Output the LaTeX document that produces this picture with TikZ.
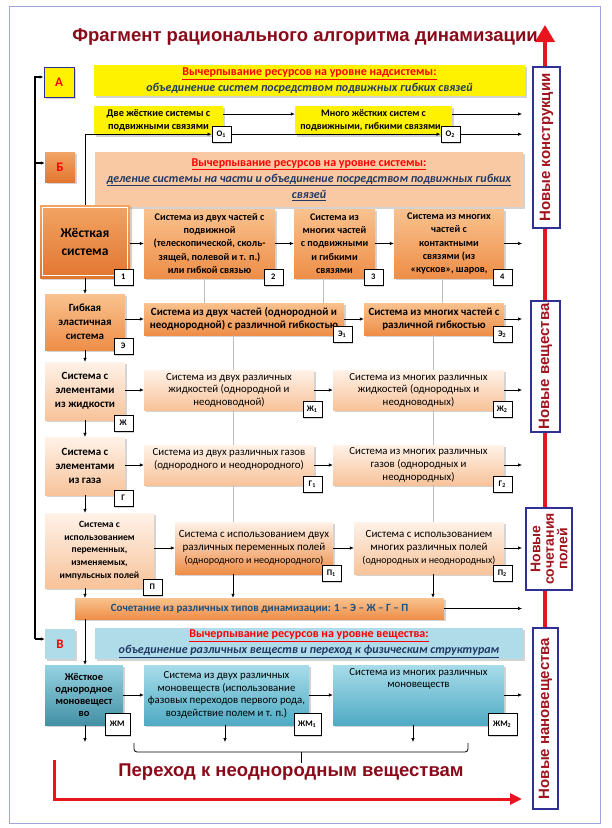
\documentclass[tikz,border=0pt]{standalone}
\usepackage{fontspec}
\setmainfont{Carlito}
\newfontfamily\arialfont{Liberation Sans}
\usepackage{tikz}
\usetikzlibrary{shadows,arrows.meta}

\definecolor{darkred}{HTML}{8B0A1A}
\definecolor{labelred}{HTML}{A0141E}
\definecolor{labelblue}{HTML}{2E3192}
\definecolor{navy}{HTML}{1F3864}
\definecolor{combotext}{HTML}{1F4E79}
\definecolor{axisred}{HTML}{E8141E}
\definecolor{framecol}{HTML}{A3A3E0}
\definecolor{guidegray}{HTML}{BDBDBD}
\definecolor{hottop}{HTML}{F2A464}
\definecolor{hotbot}{HTML}{E27630}
\definecolor{warmtop}{HTML}{F9C28E}
\definecolor{warmbot}{HTML}{EE8E48}
\definecolor{paletop}{HTML}{FFF2E8}
\definecolor{palebot}{HTML}{F7C39A}
\definecolor{peach}{HTML}{F9C9A3}
\definecolor{lightblue}{HTML}{B0DCE9}
\definecolor{tealtop}{HTML}{A8DCEA}
\definecolor{tealbot}{HTML}{4FAAC3}

\tikzstyle{shadowed} = [drop shadow={opacity=0.35, shadow xshift=1.5pt, shadow yshift=-1.5pt}]
\tikzstyle{cell} = [rectangle, align=center, inner sep=1pt, shadowed]
\tikzstyle{hot} = [cell, top color=hottop, bottom color=hotbot]
\tikzstyle{warm} = [cell, top color=warmtop, bottom color=warmbot]
\tikzstyle{pale} = [cell, top color=paletop, bottom color=palebot]
\tikzstyle{teal} = [cell, top color=tealtop, bottom color=tealbot]
\tikzstyle{tag} = [rectangle, draw, fill=white, inner sep=0pt, minimum width=19pt, minimum height=16pt, font=\bfseries\fontsize{8.5}{9}\selectfont, xshift=-2pt, yshift=1pt, shadowed]
\tikzstyle{letter} = [rectangle, minimum width=30pt, minimum height=30pt, text=red, font=\bfseries\fontsize{13}{14}\selectfont, shadowed]
\tikzstyle{banner} = [rectangle, align=center, inner sep=1pt, text=navy, font=\bfseries\fontsize{12}{16}\selectfont, shadowed]
\tikzstyle{newbox} = [rectangle, rotate=90, draw=labelblue, line width=1.2pt, fill=white, align=center, inner sep=1pt, text=labelred, font=\arialfont\bfseries\fontsize{15}{14}\selectfont]
\tikzstyle{arr} = [-{Latex[length=4pt,width=3.5pt]}, line width=0.6pt]
\tikzstyle{guide} = [guidegray, line width=0.6pt]

\begin{document}
\begin{tikzpicture}[x=1pt, y=-1pt]
\useasboundingbox (0,0) rectangle (612,828);
\draw[framecol, line width=1pt] (9,6) rectangle (600,823);

% axis of new results
\draw[axisred, line width=4pt, -{Triangle[length=17pt,width=19pt]}] (545,806) -- (545,25);
\node[newbox, minimum width=161pt, minimum height=27pt] (lbl1) at (546.5,147.5) {Новые конструкции};
\node[newbox, minimum width=131pt, minimum height=29pt] (lbl2) at (545.5,366.5) {Новые вещества};
\node[newbox, minimum width=82pt, minimum height=46pt, font=\arialfont\bfseries\fontsize{14}{13.5}\selectfont] (lbl3) at (549,549) {Новые\\сочетания\\полей};
\node[newbox, minimum width=181pt, minimum height=25pt] (lbl4) at (545.5,718.5) {Новые нановещества};

\node[text=darkred, font=\arialfont\bfseries\fontsize{18.5}{22}\selectfont] (head) at (305,37) {Фрагмент рационального алгоритма динамизации};

\coordinate (edge) at (522,0);
\coordinate (spine) at (85,0);
\coordinate (oy) at (0,114);

% level A
\node[letter, fill=yellow, draw=labelblue, line width=1pt] (lvA) at (59,82) {А};
\node[banner, fill=yellow, minimum width=431pt, minimum height=31pt] (banA) at (309.5,80.5) {\textcolor{red}{\underline{Вычерпывание ресурсов на уровне надсистемы:}}\\\textit{объединение систем посредством подвижных гибких связей}};
\node[cell, fill=yellow, minimum width=129pt, minimum height=29pt, font=\bfseries\fontsize{10.3}{13}\selectfont] (o1) at (158.5,120.5) {Две жёсткие системы с\\подвижными связями};
\node[cell, fill=yellow, minimum width=157pt, minimum height=29pt, font=\bfseries\fontsize{10}{13}\selectfont] (o2) at (373.5,120.5) {Много жёстких систем с\\подвижными, гибкими связями\hspace*{6pt}};
\node[tag] (to1) at (o1.south east) {О\textsubscript{1}};
\node[tag] (to2) at (o2.south east) {О\textsubscript{2}};

% level B
\node[letter, top color=hottop, bottom color=hotbot] (lvB) at (60,167.5) {Б};
\node[banner, fill=peach, minimum width=428pt, minimum height=55pt] (banB) at (309,179.5) {\textcolor{red}{\underline{Вычерпывание ресурсов на уровне системы:}}\\\textit{\underline{деление системы на части и объединение посредством подвижных гибких}}\\\textit{\underline{связей}}};

% row 1
\node[hot, minimum width=90pt, minimum height=73pt, font=\bfseries\fontsize{13.5}{18}\selectfont] (rigid) at (85,241.5) {Жёсткая\\система};
\draw[white, line width=0.8pt] ([shift={(3pt,3pt)}]rigid.south west) rectangle ([shift={(-3pt,-3pt)}]rigid.north east);
\node[warm, minimum width=131pt, minimum height=69pt, font=\bfseries\fontsize{10.2}{13.4}\selectfont] (s2) at (209.5,243.5) {Система из двух частей с\\подвижной\\(телескопической, сколь-\\зящей, полевой и т. п.)\\или гибкой связью};
\node[warm, minimum width=81pt, minimum height=69pt, font=\bfseries\fontsize{10.2}{13.4}\selectfont] (s3) at (334.5,243.5) {Система из\\многих частей\\с подвижными\\и гибкими\\связями};
\node[warm, minimum width=110pt, minimum height=69pt, font=\bfseries\fontsize{10.2}{13.4}\selectfont] (s4) at (449,243.5) {Система из многих\\частей с\\контактными\\связями (из\\«кусков», шаров,};
\node[tag, xshift=-5pt] (t1) at (rigid.south east) {1};
\node[tag] (t2) at (s2.south east) {2};
\node[tag] (t3) at (s3.south east) {3};
\node[tag] (t4) at (s4.south east) {4};

% row E
\node[warm, minimum width=80pt, minimum height=56pt, font=\bfseries\fontsize{11}{14}\selectfont] (flex) at (85,322) {Гибкая\\эластичная\\система};
\node[warm, minimum width=200pt, minimum height=32pt, font=\bfseries\fontsize{11}{13.5}\selectfont] (e1) at (244,319) {Система из двух частей (однородной и\\неоднородной) с различной гибкостью};
\node[warm, minimum width=140pt, minimum height=32pt, font=\bfseries\fontsize{11}{13.5}\selectfont] (e2) at (434,319) {Система из многих частей с\\различной гибкостью};
\node[tag, yshift=3pt] (te) at (flex.south east) {Э};
\node[tag] (te1) at (e1.south east) {Э\textsubscript{1}};
\node[tag] (te2) at (e2.south east) {Э\textsubscript{2}};

% row liquid
\node[pale, minimum width=80pt, minimum height=58pt, font=\bfseries\fontsize{11}{14}\selectfont] (liq) at (85,391) {Система с\\элементами\\из жидкости};
\node[pale, minimum width=170pt, minimum height=40pt, font=\fontsize{10.8}{12.5}\selectfont] (l1) at (229,390) {Система из двух различных\\жидкостей (однородной и\\неодноводной)};
\node[pale, minimum width=171pt, minimum height=40pt, font=\fontsize{10.8}{12.5}\selectfont] (l2) at (418.5,390) {Система из многих различных\\жидкостей (однородных и\\неодноводных)};
\node[tag, yshift=-4pt] (tl) at (liq.south east) {Ж};
\node[tag] (tl1) at (l1.south east) {Ж\textsubscript{1}};
\node[tag] (tl2) at (l2.south east) {Ж\textsubscript{2}};

% row gas
\node[pale, minimum width=80pt, minimum height=58pt, font=\bfseries\fontsize{11}{14}\selectfont] (gas) at (85,466) {Система с\\элементами\\из газа};
\node[pale, minimum width=170pt, minimum height=40pt, font=\fontsize{10.8}{13}\selectfont] (v1) at (229,465) {\parbox[c][34pt][t]{168pt}{\centering Система из двух различных газов\\(однородного и неоднородного)}};
\node[pale, minimum width=171pt, minimum height=40pt, font=\fontsize{10.8}{12.8}\selectfont] (v2) at (418.5,465) {Система из многих различных\\газов (однородных и\\неоднородных)};
\node[tag, yshift=-4pt] (tg) at (gas.south east) {Г};
\node[tag] (tg1) at (v1.south east) {Г\textsubscript{1}};
\node[tag] (tg2) at (v2.south east) {Г\textsubscript{2}};

% row fields
\node[pale, minimum width=109pt, minimum height=75pt, font=\bfseries\fontsize{9.6}{12.7}\selectfont] (fld) at (99.5,550.5) {Система с\\использованием\\переменных,\\изменяемых,\\импульсных полей};
\node[cell, top color=paletop, bottom color=warmbot, minimum width=158pt, minimum height=52pt, font=\fontsize{11}{13}\selectfont] (p1) at (254,548) {Система с использованием двух\\различных переменных полей\\{\fontsize{10}{13}\selectfont(однородного и неоднородного)}};
\node[pale, minimum width=150pt, minimum height=52pt, font=\fontsize{11}{13}\selectfont] (p2) at (429,548) {Система с использованием\\многих различных полей\\{\fontsize{10}{13}\selectfont(однородных и неоднородных)}};
\node[tag] (tp) at (fld.south east) {П};
\node[tag] (tp1) at (p1.south east) {П\textsubscript{1}};
\node[tag] (tp2) at (p2.south east) {П\textsubscript{2}};

\node[cell, top color=warmtop, bottom color=warmbot, minimum width=369pt, minimum height=21pt, text=combotext, font=\bfseries\fontsize{11}{12}\selectfont] (combo) at (259.5,608.5) {Сочетание из различных типов динамизации: 1 -- Э -- Ж -- Г -- П};

% level V
\node[letter, fill=lightblue] (lvV) at (60,644) {В};
\node[banner, fill=lightblue, minimum width=428pt, minimum height=31pt] (banV) at (309,643.5) {\textcolor{red}{\underline{Вычерпывание ресурсов на уровне вещества:}}\\\textit{\underline{объединение различных веществ и переход к физическим структурам}}};

% row mono-substances
\node[cell, top color=tealtop!80!tealbot, bottom color=tealbot!85!black, minimum width=78pt, minimum height=60pt, font=\bfseries\fontsize{10.5}{12.3}\selectfont] (m0) at (84,695) {Жёсткое\\однородное\\моновещест\\во};
\node[teal, minimum width=165pt, minimum height=60pt, font=\fontsize{10.8}{12.5}\selectfont] (m1) at (226.5,695) {Система из двух различных\\моновеществ (использование\\фазовых переходов первого рода,\\воздействие полем и т. п.)};
\node[teal, minimum width=171pt, minimum height=60pt, font=\fontsize{10.8}{12.5}\selectfont] (m2) at (418.5,695) {\parbox[c][54pt][t]{168pt}{\centering Система из многих различных\\моновеществ}};
\node[tag, minimum width=25pt, minimum height=22pt, xshift=-4pt] (tm) at (m0.south east) {ЖМ};
\node[tag, minimum width=27pt, minimum height=22pt] (tm1) at (m1.south east) {ЖМ\textsubscript{1}};
\node[tag, minimum width=29pt, minimum height=22pt] (tm2) at (m2.south east) {ЖМ\textsubscript{2}};

% left bracket line
\coordinate (ltop) at (35,77);
\coordinate (lmid) at (35,163);
\coordinate (lbot) at (35,639);
\draw[arr, line width=1.1pt] (lbot) |- (lvA.west |- ltop);
\draw[arr, line width=1.1pt] (lmid) -- (lvB.west |- lmid);
\draw[arr, line width=1.1pt] (lbot) -- (lvV.west |- lbot);

% connectors
\draw[arr] (o1.east |- oy) -- (o2.west |- oy);
\draw[arr] (o2.east |- oy) -- (edge |- oy);
\draw[arr] (rigid.north) |- (to1.west);
\draw[arr] (to1.east) -- (to2.west);
\draw[arr] (to2.east) -- (to2.east -| edge);
\foreach \a/\b in {rigid/s2, s2/s3, s3/s4, flex/e1, e1/e2, liq/l1, l1/l2, gas/v1, v1/v2, fld/p1, p1/p2, m0/m1, m1/m2}
  \draw[arr] (\b.west -| \a.east) -- (\b.west);
\foreach \a in {s4, e2, l2, v2, p2, combo, m2}
  \draw[arr] (\a.east) -- (\a.east -| edge);
\foreach \a/\b in {rigid/flex, flex/liq, liq/gas, gas/fld, fld/combo, combo/m0}
  \draw[arr] (\a.south -| spine) -- (\b.north -| spine);

% guide lines
\coordinate (ga) at (204,0);
\coordinate (gb) at (323,0);
\coordinate (gc) at (442,0);
\coordinate (gd) at (233,0);
\coordinate (ge) at (433,0);
\draw[guide] (s2.south -| ga) -- (e1.north -| ga);
\draw[guide] (s3.south -| gb) -- (e1.north -| gb);
\draw[guide] (s4.south -| gc) -- (e2.north -| gc);
\foreach \a/\b in {e1/l1, l1/v1, v1/p1}
  \draw[guide] (\a.south -| gd) -- (\b.north -| gd);
\foreach \a/\b in {e2/l2, l2/v2, v2/p2}
  \draw[guide] (\a.south -| ge) -- (\b.north -| ge);
\draw[arr] (p1.south -| gd) -- (combo.north -| gd);
\draw[arr] (p2.south -| ge) -- (combo.north -| ge);

% bottom
\coordinate (bend) at (0,742);
\coordinate (gf) at (225,0);
\coordinate (gg) at (413,0);
\draw[arr] (m0.south -| spine) -- (bend -| spine);
\draw[arr] (m1.south -| gf) -- (bend -| gf);
\draw[arr] (m2.south -| gg) -- (bend -| gg);
\coordinate (bl) at (134,743);
\coordinate (br) at (468,743);
\coordinate (bc) at (301,752);
\coordinate (bt) at (301,763);
\draw[line width=0.8pt, rounded corners=3pt] (bl) |- (bc) -| (br);
\draw[line width=0.8pt] (bc) -- (bt);
\node[text=darkred, font=\arialfont\bfseries\fontsize{18.5}{21}\selectfont] (foot) at (291,772) {Переход к неоднородным веществам};
\coordinate (rs) at (54,760);
\coordinate (re) at (522,799);
\draw[axisred, line width=3pt, -{Triangle[length=12pt,width=11pt]}] (rs) |- (re);
\end{tikzpicture}
\end{document}
